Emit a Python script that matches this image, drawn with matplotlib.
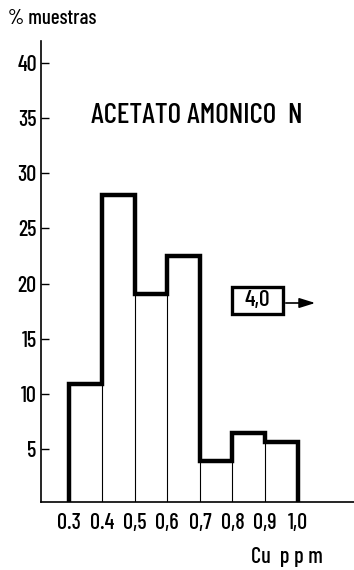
import matplotlib
matplotlib.use("Agg")
import matplotlib.pyplot as plt
import matplotlib.patches as mpatches

edges = [0.3, 0.4, 0.5, 0.6, 0.7, 0.8, 0.9, 1.0]
values = [10.9, 28.0, 19.1, 22.5, 3.95, 6.5, 5.6]
yticks = [5, 10, 15, 20, 25, 30, 35, 40]
xtick_labels = ["0.3", "0.4", "0,5", "0,6", "0,7", "0,8", "0,9", "1,0"]

plt.rcParams['font.family'] = ['Barlow Condensed', 'DejaVu Sans']
plt.rcParams['font.weight'] = 'medium'

W, H = 354, 570
fig = plt.figure(figsize=(W/100, H/100), dpi=100)
ax = fig.add_axes([41/W, 68/H, (W-41)/W, 461/H])
ax.set_xlim(0.2133, 1.1725)
ax.set_ylim(0.2, 42)

# thin internal lines
for i, e in enumerate(edges):
    if 0 < i < len(values):
        h = min(values[i-1], values[i])
        ax.plot([e, e], [0, h], color='black', lw=0.8, solid_capstyle='butt')
ax.stairs(values, edges, baseline=0, color='black', lw=3.2, fill=False)

for s in ['top', 'right']:
    ax.spines[s].set_visible(False)
for s in ['left', 'bottom']:
    ax.spines[s].set_linewidth(1.2)

ax.set_yticks(yticks)
ax.set_yticklabels([str(v) for v in yticks])
ax.tick_params(axis='y', direction='in', length=6, width=1.0, pad=3, labelsize=16)
ax.set_xticks(edges)
ax.set_xticklabels(xtick_labels)
ax.tick_params(axis='x', length=0, pad=8, labelsize=16)

def px(x, y):
    return x/W, 1 - y/H

fig.text(*px(8, 19), "% muestras", fontsize=15, ha='left', va='center')
fig.text(*px(197, 116), "ACETATO AMONICO  N", fontsize=21, ha='center', va='center')
fig.text(*px(287, 557), "Cu  p p m", fontsize=16, ha='center', va='center')

# box 4,0
bx0, bx1, by0, by1 = 232, 283, 287, 314
fig.patches.append(mpatches.Rectangle(px(bx0, by1), (bx1-bx0)/W, (by1-by0)/H,
                                      transform=fig.transFigure, fill=False, lw=2.4, ec='black'))
fig.text(*px((bx0+bx1)/2, (by0+by1)/2), "4,0", fontsize=17, ha='center', va='center')
fig.add_artist(mpatches.FancyArrowPatch(px(bx1, 303), px(318, 303),
               transform=fig.transFigure, arrowstyle='-|>,head_length=0.8,head_width=0.25',
               mutation_scale=12, lw=1.2, color='black'))

fig.savefig("out.png", dpi=100)
